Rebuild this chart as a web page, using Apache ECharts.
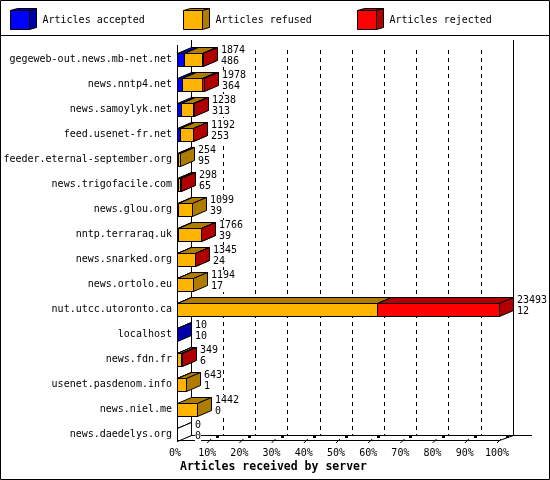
<!DOCTYPE html>
<html>
<head>
<meta charset="utf-8">
<script src="https://cdn.jsdelivr.net/npm/echarts@6/dist/echarts.min.js"></script>
<style>
    html, body { margin: 0; padding: 0; background: #fff; }
    #chart { width: 550px; height: 480px; }
</style>
</head>
<body>
<div id="chart"></div>
<script>
// 各服务器（从上到下）
const servers = [
    'gegeweb-out.news.mb-net.net', 'news.nntp4.net', 'news.samoylyk.net', 'feed.usenet-fr.net',
    'feeder.eternal-september.org', 'news.trigofacile.com', 'news.glou.org', 'nntp.terraraq.uk',
    'news.snarked.org', 'news.ortolo.eu', 'nut.utcc.utoronto.ca', 'localhost',
    'news.fdn.fr', 'usenet.pasdenom.info', 'news.niel.me', 'news.daedelys.org'
]
// 收到的文章总数（上面的数字）
const offered  = [1874, 1978, 1238, 1192, 254, 298, 1099, 1766, 1345, 1194, 23493, 10, 349, 643, 1442, 0]
// 接受的文章（下面的数字）
const accepted = [486, 364, 313, 253, 95, 65, 39, 39, 24, 17, 12, 10, 6, 1, 0, 0]
const refused  = [1358, 1474, 865, 889, 159, 173, 1060, 1697, 1271, 1177, 14590, 0, 273, 642, 1442, 0]
const rejected = [30, 140, 60, 50, 0, 60, 0, 30, 50, 0, 8891, 0, 70, 0, 0, 0]
const pctTicks = [0, 10, 20, 30, 40, 50, 60, 70, 80, 90, 100]

const FONT = '10px "DejaVu Sans Mono", "Liberation Mono", monospace'
const DX = 14, DY = 6          // 3D深度
const maxTotal = Math.max(...offered)
const toPct = v => v / maxTotal * 100

// 颜色：正面 / 顶面和侧面
const colors = {
    accepted: ['#0000ff', '#0000a8'],
    refused: ['#ffb400', '#b07c00'],
    rejected: ['#ff0000', '#b00000']
}

const px = v => Math.round(v) + 0.5

// 画一个3D长方体
function box(x0, x1, c, front, dark) {
    const top = px(c - 7), bot = px(c + 6)
    x0 = px(x0); x1 = px(x1)
    const line = { stroke: '#000', lineWidth: 1 }
    return {
        type: 'group',
        children: [
            { type: 'polygon', shape: { points: [[x0, top], [x0 + DX, top - DY], [x1 + DX, top - DY], [x1, top]] }, style: Object.assign({ fill: dark }, line) },
            { type: 'polygon', shape: { points: [[x1, top], [x1 + DX, top - DY], [x1 + DX, bot - DY], [x1, bot]] }, style: Object.assign({ fill: dark }, line) },
            { type: 'rect', shape: { x: x0, y: top, width: x1 - x0, height: bot - top }, style: Object.assign({ fill: front }, line) }
        ]
    }
}

// 堆叠段数据：[行号, 起点, 数值, 行总数]
function segData(values, before) {
    return values.map((v, i) => [i, before ? before[i] : 0, v, offered[i]])
}
const accStart = accepted.map(() => 0)
const refStart = accepted.slice()
const rejStart = accepted.map((a, i) => a + refused[i])

function segSeries(name, values, starts, col) {
    return {
        name: name,
        type: 'custom',
        xAxisIndex: 0,
        yAxisIndex: 0,
        encode: { y: 0, x: 2 },
        data: values.map((v, i) => [i, starts[i], v, offered[i]]),
        renderItem: (params, api) => {
            const row = api.value(0)
            const s = api.value(1), v = api.value(2), total = api.value(3)
            const p0 = api.coord([toPct(s), row])
            if (v <= 0) {
                // 空行画一个白色空盒子
                if (name === 'Articles accepted' && total === 0) {
                    return box(p0[0], p0[0], p0[1], '#fff', '#fff')
                }
                return null
            }
            const p1 = api.coord([toPct(s + v), row])
            return box(p0[0], p1[0], p0[1], col[0], col[1])
        }
    }
}

const labelSeries = {
    name: 'labels',
    type: 'custom',
    xAxisIndex: 0,
    yAxisIndex: 0,
    z: 5,
    data: offered.map((v, i) => [i, v, accepted[i]]),
    renderItem: (params, api) => {
        const p = api.coord([toPct(api.value(1)), api.value(0)])
        return {
            type: 'text',
            x: Math.round(p[0]) + DX + 4,
            y: Math.round(p[1]) - 15,
            style: {
                text: api.value(1) + '\n' + api.value(2),
                font: FONT,
                fill: '#000',
                backgroundColor: '#fff',
                lineHeight: 11,
                verticalAlign: 'top'
            }
        }
    }
}

// 图例方块
function legendCube(x, col, text) {
    const line = { stroke: '#000', lineWidth: 1 }
    const y = 10.5, s = 19, d = 7, h = 2
    x += 0.5
    return [
        { type: 'polygon', shape: { points: [[x, y], [x + d, y - h], [x + s + d, y - h], [x + s, y]] }, style: Object.assign({ fill: col[1] }, line) },
        { type: 'polygon', shape: { points: [[x + s, y], [x + s + d, y - h], [x + s + d, y + s - h], [x + s, y + s]] }, style: Object.assign({ fill: col[1] }, line) },
        { type: 'rect', shape: { x: x, y: y, width: s, height: s }, style: Object.assign({ fill: col[0] }, line) },
        { type: 'text', x: x + 32, y: 20, style: { text: text, font: FONT, fill: '#000', verticalAlign: 'middle' } }
    ]
}

function seg(x1, y1, x2, y2, z, dash) {
    return { type: 'line', z: z, shape: { x1: x1, y1: y1, x2: x2, y2: y2 }, style: { stroke: '#000', lineWidth: 1, lineDash: dash } }
}

// 框架和地板
const frame = [
    { type: 'rect', z: 1, shape: { x: 0.5, y: 0.5, width: 549, height: 479 }, style: { fill: null, stroke: '#000', lineWidth: 1 } },
    seg(0, 35.5, 550, 35.5, 1),
    seg(191.5, 40, 191.5, 435, 1),
    seg(513.5, 40, 513.5, 435, 1),
    seg(191, 435.5, 532, 435.5, 1),
    seg(177.5, 45, 177.5, 441, 3),
    seg(177, 440.5, 499, 440.5, 3),
    seg(177.5, 440.5, 191.5, 435.5, 1),
    seg(499.5, 440.5, 513.5, 435.5, 1),
    { type: 'text', x: 180, y: 467, style: { text: 'Articles received by server', font: 'bold 11.5px "DejaVu Sans Mono", monospace', fill: '#000', verticalAlign: 'middle' } }
]
// 地板上的刻度
pctTicks.slice(1).forEach(t => {
    const xf = 177 + t / 100 * 322
    frame.push(seg(xf - 2, 443, xf + 2, 439, 3))
    frame.push({ type: 'rect', z: 3, shape: { x: Math.round(xf + 7), y: 435, width: 3, height: 3 }, style: { fill: '#000' } })
})

const graphic = frame
    .concat(legendCube(10, colors.accepted, 'Articles accepted'))
    .concat(legendCube(183, colors.refused, 'Articles refused'))
    .concat(legendCube(357, colors.rejected, 'Articles rejected'))

const option = {
    animation: false,
    backgroundColor: '#fff',
    grid: [
        { left: 177, right: 51, top: 47, bottom: 33 },
        { left: 191, right: 37, top: 50, bottom: 45 }
    ],
    xAxis: [
        {
            gridIndex: 0, type: 'value', min: 0, max: 100, interval: 10,
            axisLine: { show: false }, axisTick: { show: false }, splitLine: { show: false },
            axisLabel: { formatter: '{value}%', margin: 1, padding: [0, 4, 0, 0], color: '#000', fontFamily: '"DejaVu Sans Mono", monospace', fontSize: 10 }
        },
        {
            gridIndex: 1, type: 'value', min: 0, max: 100, interval: 10,
            axisLine: { show: false }, axisTick: { show: false }, axisLabel: { show: false },
            splitLine: { show: true, lineStyle: { color: '#000', type: [4, 4], width: 1 } }
        }
    ],
    yAxis: [
        {
            gridIndex: 0, type: 'category', data: servers, inverse: true,
            axisLine: { show: false }, axisTick: { show: false }, splitLine: { show: false },
            axisLabel: { margin: 5, color: '#000', fontFamily: '"DejaVu Sans Mono", monospace', fontSize: 10 }
        },
        { gridIndex: 1, type: 'value', min: 0, max: 1, show: false }
    ],
    graphic: graphic,
    series: [
        segSeries('Articles accepted', accepted, accStart, colors.accepted),
        segSeries('Articles refused', refused, refStart, colors.refused),
        segSeries('Articles rejected', rejected, rejStart, colors.rejected),
        labelSeries
    ]
}

const myChart = echarts.init(document.getElementById('chart'))
myChart.setOption(option)
</script>
</body>
</html>
